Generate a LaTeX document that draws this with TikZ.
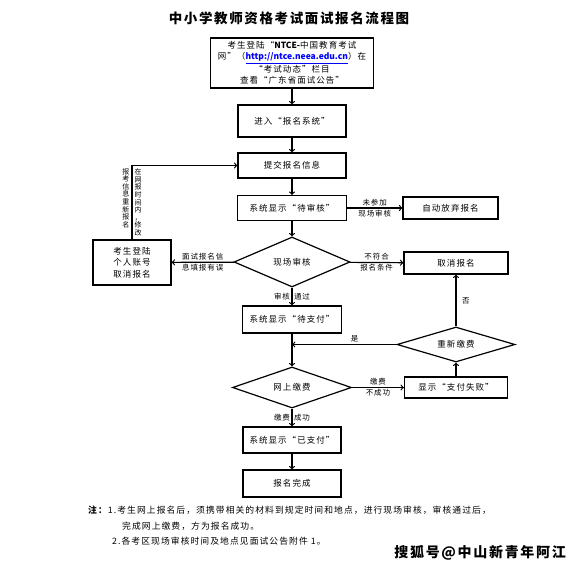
\documentclass[tikz,border=0pt]{standalone}
\usepackage{fontspec}
\setmainfont{Noto Sans CJK SC}[LetterSpace=12]
\newfontfamily\latinfont{Noto Sans CJK SC}
\usetikzlibrary{shapes,arrows,positioning}

\begin{document}
\begin{tikzpicture}
  [x=1pt,y=-1pt,
  box/.style={draw=black,line width=1.2pt,inner sep=1pt,align=center,font=\fontsize{8.5}{11.5}\selectfont},
  dia/.style={diamond,draw=black,line width=1.2pt,inner sep=0pt,shape aspect=2.3,font=\fontsize{8.5}{10}\selectfont},
  lab/.style={font=\fontsize{7.5}{9}\selectfont,inner sep=1.5pt},
  vlab/.style={font=\fontsize{7}{7.6}\selectfont,align=center,inner sep=0pt},
  flow/.style={->,line width=1.2pt}]
  \useasboundingbox (0,0) rectangle (579,570);
  \node[font=\fontsize{13.5}{16}\selectfont\bfseries] (title) at (289,18) {中小学教师资格考试面试报名流程图};

  % main column
  \node[box,minimum width=163pt,minimum height=50pt,font=\fontsize{8.5}{11}\selectfont] (login) at (292,63) {考生登陆“{\latinfont\bfseries NTCE-}中国教育考试\\网”（{\latinfont\bfseries\textcolor{blue}{\underline{http://ntce.neea.edu.cn}}}）在\\[1.5pt]“考试动态”栏目\\查看“广东省面试公告”};
  \node[box,minimum width=108pt,minimum height=32pt] (enter) at (292,121) {进入“报名系统”};
  \node[box,minimum width=108pt,minimum height=25pt] (submit) at (292,165.5) {提交报名信息};
  \node[box,minimum width=109pt,minimum height=25pt] (pending) at (292,208) {系统显示“待审核”};
  \node[dia,minimum width=116pt,minimum height=50pt] (onsite) at (292,262) {现场审核};
  \node[box,minimum width=99pt,minimum height=27pt] (topay) at (292,319.5) {系统显示“待支付”};
  \node[dia,minimum width=119pt,minimum height=41pt] (paynet) at (292,387.5) {网上缴费};
  \node[box,minimum width=98pt,minimum height=26pt] (paid) at (292,440) {系统显示“已支付”};
  \node[box,minimum width=98pt,minimum height=27pt] (done) at (292,483.5) {报名完成};

  % side boxes
  \node[box,minimum width=95pt,minimum height=22pt] (giveup) at (450.5,208) {自动放弃报名};
  \node[box,minimum width=104pt,minimum height=22pt] (cancel) at (456,263) {取消报名};
  \node[box,minimum width=78pt,minimum height=45pt] (relogin) at (132,262.5) {考生登陆\\个人账号\\取消报名};
  \node[dia,minimum width=118pt,minimum height=35pt] (repay) at (456,344.5) {重新缴费};
  \node[box,minimum width=103pt,minimum height=21pt] (payfail) at (456,387.5) {显示“支付失败”};

  \draw[flow] (login) -- (enter);
  \draw[flow] (enter) -- (submit);
  \draw[flow] (submit) -- (pending);
  \draw[flow] (pending) -- (onsite);
  \draw[flow] (pending) -- node[lab,above]{未参加} node[lab,below]{现场审核} (giveup);
  \draw[flow] (onsite) -- node[lab,above]{不符合} node[lab,below]{报名条件} (cancel);
  \draw[flow] (onsite) -- node[lab,above]{面试报名信} node[lab,below]{息填报有误} (relogin);
  \draw[flow] (relogin.north) |- node[vlab,pos=0.28,left=2pt]{报\\考\\信\\息\\重\\新\\报\\名} node[vlab,pos=0.25,right=2pt]{在\\网\\报\\时\\间\\内\\，\\修\\改} (submit.west);
  \draw[flow] (onsite) -- node[lab,left]{审核} node[lab,right]{通过} (topay);
  \draw[flow] (topay) -- (paynet);
  \draw[flow] (paynet) -- node[lab,above]{缴费} node[lab,below]{不成功} (payfail);
  \draw[flow] (payfail) -- (repay);
  \draw[flow] (repay) -- node[lab,right=4pt]{否} (cancel);
  \draw[flow] (repay.west) -- node[lab,above,pos=0.4]{是} (repay.west -| topay.south);
  \draw[flow] (paynet) -- node[lab,left]{缴费} node[lab,right]{成功} (paid);
  \draw[flow] (paid) -- (done);

  % notes
  \node[anchor=west,inner sep=0pt,font=\fontsize{8.8}{10}\selectfont] (note1) at (88,510) {\textbf{注：}1.考生网上报名后，须携带相关的材料到规定时间和地点，进行现场审核，审核通过后，};
  \node[anchor=west,inner sep=0pt,font=\fontsize{8.8}{10}\selectfont] (note2) at (122,526) {完成网上缴费，方为报名成功。};
  \node[anchor=west,inner sep=0pt,font=\fontsize{8.8}{10}\selectfont] (note3) at (112,541) {2.各考区现场审核时间及地点见面试公告附件 1。};
  \node[anchor=east,inner sep=0pt,font=\fontsize{14}{16}\selectfont\bfseries] (mark) at (566,553) {搜狐号@中山新青年阿江};
\end{tikzpicture}
\end{document}
